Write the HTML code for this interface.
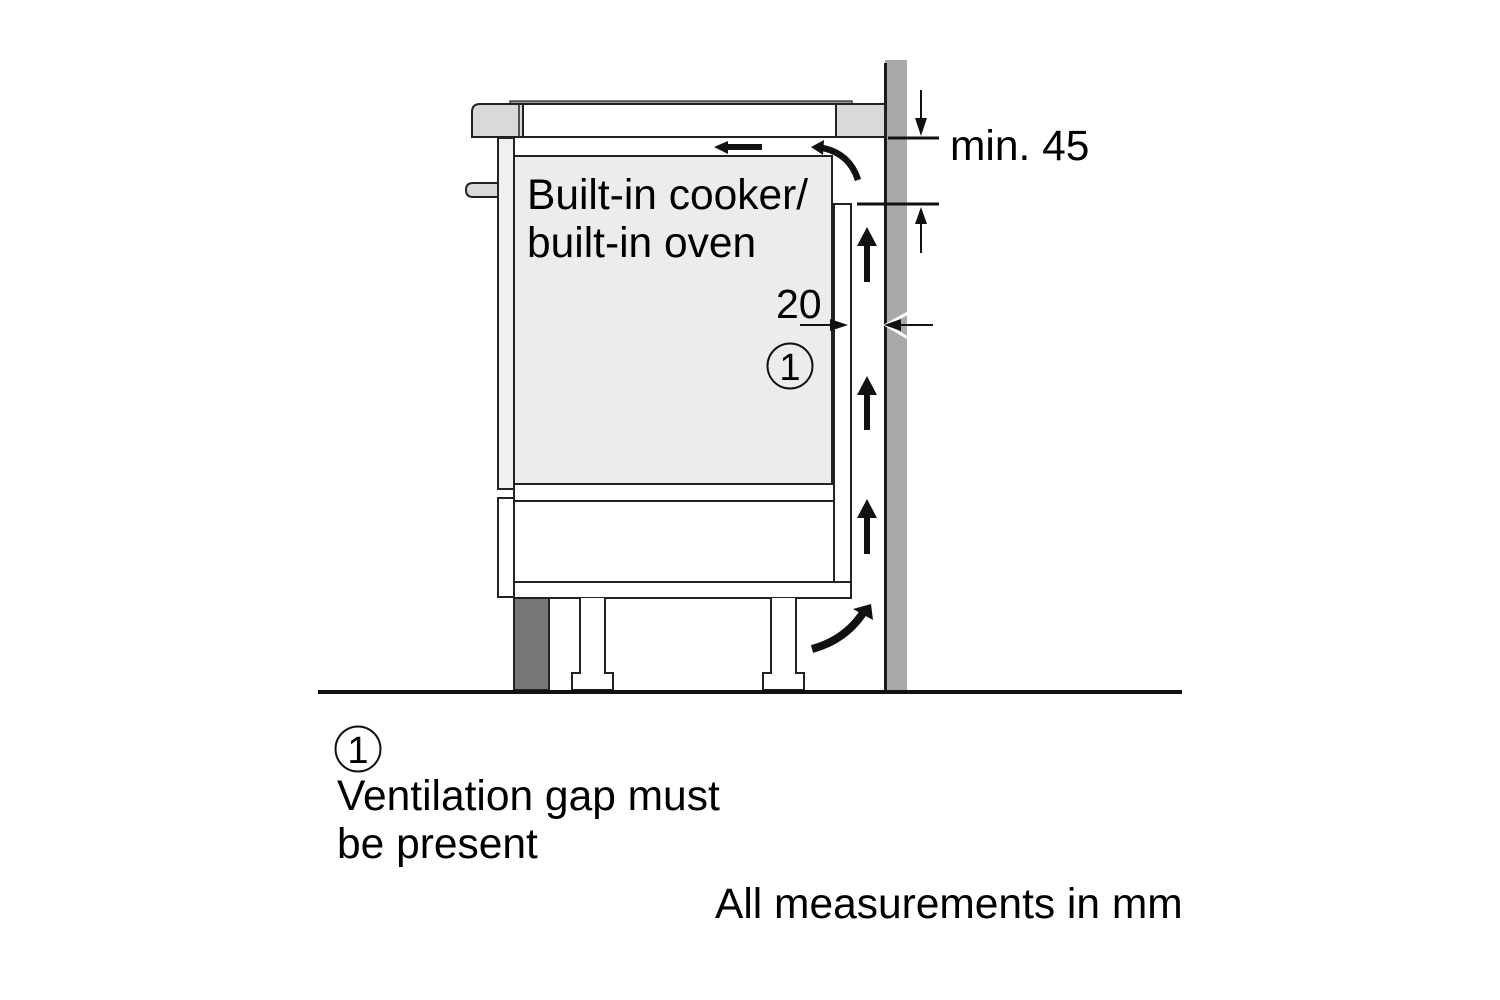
<!DOCTYPE html>
<html>
<head>
<meta charset="utf-8">
<style>
  html,body{margin:0;padding:0;background:#fff;}
  body{width:1500px;height:1000px;overflow:hidden;}
  svg{display:block;}
  text{font-family:"Liberation Sans", Arial, sans-serif;fill:#000;}
</style>
</head>
<body>
<svg width="1500" height="1000" viewBox="0 0 1500 1000" xmlns="http://www.w3.org/2000/svg">
  <rect x="0" y="0" width="1500" height="1000" fill="#fff"/>

  <!-- Wall -->
  <rect x="885" y="60" width="22" height="632" fill="#a9a9a9"/>
  <line x1="885.5" y1="63" x2="885.5" y2="692" stroke="#1a1a1a" stroke-width="3"/>
  <!-- wall break notch -->
  <polyline points="908,313 886,325 908,338" fill="none" stroke="#fff" stroke-width="3"/>

  <!-- Hob top plate -->
  <rect x="510" y="101" width="342" height="3.5" fill="#9a9a9a" stroke="#222" stroke-width="1.2"/>
  <!-- Hob body (white) -->
  <rect x="522" y="104" width="314" height="33" fill="#fff" stroke="#222" stroke-width="2"/>
  <!-- Left countertop piece -->
  <path d="M523,104 L480,104 Q472,104 472,112 L472,137 L523,137 Z" fill="#d9d9d9" stroke="#222" stroke-width="2"/>
  <line x1="519" y1="104" x2="519" y2="137" stroke="#222" stroke-width="1.5"/>
  <!-- Right countertop piece -->
  <rect x="836" y="104" width="49" height="33" fill="#d9d9d9" stroke="#222" stroke-width="2"/>

  <!-- Knob -->
  <path d="M498,183 L473,183 Q466,183 466,190 Q466,197 473,197 L498,197 Z" fill="#d9d9d9" stroke="#222" stroke-width="2"/>

  <!-- Left door panel -->
  <rect x="498" y="138" width="16" height="351" fill="#f0f0f0" stroke="#222" stroke-width="2"/>

  <!-- Oven body -->
  <rect x="514" y="156" width="318" height="328" fill="#ececec" stroke="#222" stroke-width="2"/>

  <!-- Right cabinet side panel -->
  <rect x="834" y="204" width="17" height="378" fill="#fff" stroke="#222" stroke-width="2"/>

  <!-- Bar below oven -->
  <rect x="514" y="484" width="320" height="17" fill="#fff" stroke="#222" stroke-width="2"/>
  <!-- Drawer -->
  <rect x="514" y="501" width="320" height="81" fill="#fff" stroke="#222" stroke-width="2"/>
  <!-- Drawer front -->
  <rect x="498" y="498" width="16" height="99" fill="#fff" stroke="#222" stroke-width="2"/>
  <!-- Base plate -->
  <rect x="514" y="582" width="337" height="16" fill="#fff" stroke="#222" stroke-width="2"/>

  <!-- Plinth -->
  <rect x="514" y="598" width="35" height="92" fill="#777" stroke="#222" stroke-width="2"/>

  <!-- Legs -->
  <path d="M580,598 L580,673 L572,673 L572,690 L613,690 L613,673 L605,673 L605,598" fill="#fff" stroke="#222" stroke-width="2"/>
  <path d="M771,598 L771,673 L763,673 L763,690 L804,690 L804,673 L796,673 L796,598" fill="#fff" stroke="#222" stroke-width="2"/>

  <!-- Floor -->
  <rect x="318" y="690" width="864" height="4" fill="#111"/>

  <!-- Air flow arrows: up -->
  <polygon points="867,227 877,246 870,246 870,282 864,282 864,246 857,246" fill="#111"/>
  <polygon points="867,376 877,395 870,395 870,430 864,430 864,395 857,395" fill="#111"/>
  <polygon points="867,499 877,518 870,518 870,554 864,554 864,518 857,518" fill="#111"/>

  <!-- Left arrow top -->
  <polygon points="714,147 728,141 728,144 762,144 762,150 728,150 728,154" fill="#111"/>

  <!-- Curved arrow top -->
  <path d="M858,180 Q850,154 823,148" fill="none" stroke="#111" stroke-width="6.5"/>
  <polygon points="811,147 824,140 823,155" fill="#111"/>

  <!-- Curved arrow bottom -->
  <path d="M812,649 Q845,640 863,613" fill="none" stroke="#111" stroke-width="8"/>
  <polygon points="871,604 853,609 873,620" fill="#111"/>

  <!-- Dimension: min. 45 -->
  <line x1="921" y1="90" x2="921" y2="120" stroke="#111" stroke-width="2"/>
  <polygon points="921,136 915,118 927,118" fill="#111"/>
  <line x1="888" y1="138" x2="939" y2="138" stroke="#111" stroke-width="3"/>
  <line x1="857" y1="204" x2="939" y2="204" stroke="#111" stroke-width="3"/>
  <polygon points="921,207 915,224 927,224" fill="#111"/>
  <line x1="921" y1="222" x2="921" y2="253" stroke="#111" stroke-width="2"/>

  <!-- Dimension: 20 -->
  <line x1="800" y1="325" x2="832" y2="325" stroke="#111" stroke-width="2"/>
  <polygon points="848,325 830,319 830,331" fill="#111"/>
  <line x1="900" y1="325" x2="933" y2="325" stroke="#111" stroke-width="2"/>
  <polygon points="884,325 901,319 901,331" fill="#111"/>

  <!-- Texts -->
  <text x="527" y="209" font-size="42.5">Built-in cooker/</text>
  <text x="527" y="257" font-size="42.5">built-in oven</text>
  <text x="776" y="318" font-size="41">20</text>
  <circle cx="790" cy="366" r="22.5" fill="none" stroke="#111" stroke-width="2"/>
  <text x="790" y="380" font-size="38" text-anchor="middle">1</text>

  <text x="950" y="160" font-size="42.5">min. 45</text>

  <circle cx="358" cy="749" r="22.5" fill="none" stroke="#111" stroke-width="2"/>
  <text x="358" y="763" font-size="38" text-anchor="middle">1</text>
  <text x="337" y="810" font-size="42.5">Ventilation gap must</text>
  <text x="337" y="858" font-size="42.5">be present</text>

  <text x="715" y="918" font-size="42.5">All measurements in mm</text>
</svg>
</body>
</html>
